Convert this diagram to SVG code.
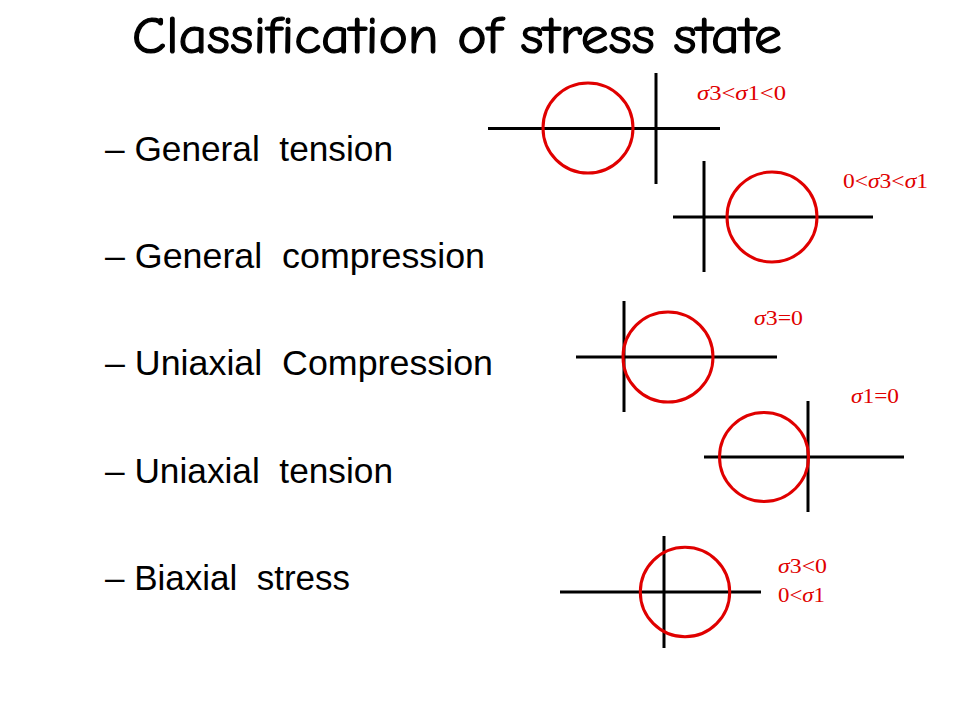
<svg xmlns="http://www.w3.org/2000/svg" width="960" height="720" viewBox="0 0 960 720">
<style>
.title{font-family:"Comic Sans MS","Comic Neue","DejaVu Sans",sans-serif;font-size:52px;fill:#000;stroke:#000;stroke-width:1.2}
.item{font-family:"Liberation Sans",Arial,sans-serif;font-size:35px;fill:#000;white-space:pre}
.lbl{font-family:"Liberation Serif","Times New Roman",serif;font-size:21px;fill:#e00000}
.s{font-style:italic}
.ax{stroke:#000;stroke-width:3;fill:none}
.mc{stroke:#e00000;stroke-width:3;fill:none}
</style>
<rect width="960" height="720" fill="#fff"/>
<text class="title" x="132" y="53" textLength="650" lengthAdjust="spacingAndGlyphs">Classification of stress state</text>
<g id="list">
<text class="item" xml:space="preserve" x="105" y="161" textLength="288" lengthAdjust="spacingAndGlyphs">– General  tension</text>
<text class="item" xml:space="preserve" x="105" y="268" textLength="380" lengthAdjust="spacingAndGlyphs">– General  compression</text>
<text class="item" xml:space="preserve" x="105" y="375" textLength="388" lengthAdjust="spacingAndGlyphs">– Uniaxial  Compression</text>
<text class="item" xml:space="preserve" x="105" y="483" textLength="288" lengthAdjust="spacingAndGlyphs">– Uniaxial  tension</text>
<text class="item" xml:space="preserve" x="105" y="590" textLength="245" lengthAdjust="spacingAndGlyphs">– Biaxial  stress</text>
</g>
<g id="general-tension">
<line class="ax" x1="488" y1="128.5" x2="720" y2="128.5"/>
<line class="ax" x1="656" y1="73" x2="656" y2="184"/>
<circle class="mc" cx="588" cy="128" r="45"/>
<text class="lbl" x="697" y="100" textLength="89" lengthAdjust="spacingAndGlyphs"><tspan class="s">σ</tspan>3&lt;<tspan class="s">σ</tspan>1&lt;0</text>
</g>
<g id="general-compression">
<line class="ax" x1="673" y1="217" x2="873" y2="217"/>
<line class="ax" x1="704" y1="161" x2="704" y2="272"/>
<circle class="mc" cx="772" cy="217" r="45"/>
<text class="lbl" x="843" y="188" textLength="85" lengthAdjust="spacingAndGlyphs">0&lt;<tspan class="s">σ</tspan>3&lt;<tspan class="s">σ</tspan>1</text>
</g>
<g id="uniaxial-compression">
<line class="ax" x1="576" y1="357" x2="777" y2="357"/>
<line class="ax" x1="624" y1="301" x2="624" y2="412"/>
<circle class="mc" cx="668" cy="357" r="45"/>
<text class="lbl" x="754" y="325" textLength="49" lengthAdjust="spacingAndGlyphs"><tspan class="s">σ</tspan>3=0</text>
</g>
<g id="uniaxial-tension">
<line class="ax" x1="704" y1="457" x2="904" y2="457"/>
<line class="ax" x1="808" y1="401" x2="808" y2="512"/>
<circle class="mc" cx="764" cy="457" r="44.5"/>
<text class="lbl" x="851" y="403" textLength="48" lengthAdjust="spacingAndGlyphs"><tspan class="s">σ</tspan>1=0</text>
</g>
<g id="biaxial-stress">
<line class="ax" x1="560" y1="592" x2="761" y2="592"/>
<line class="ax" x1="664" y1="536" x2="664" y2="648"/>
<circle class="mc" cx="685" cy="592" r="44.7"/>
<text class="lbl" x="778" y="573" textLength="49" lengthAdjust="spacingAndGlyphs"><tspan class="s">σ</tspan>3&lt;0</text>
<text class="lbl" x="778" y="602" textLength="47" lengthAdjust="spacingAndGlyphs">0&lt;<tspan class="s">σ</tspan>1</text>
</g>
<g id="connectors"></g>
</svg>
